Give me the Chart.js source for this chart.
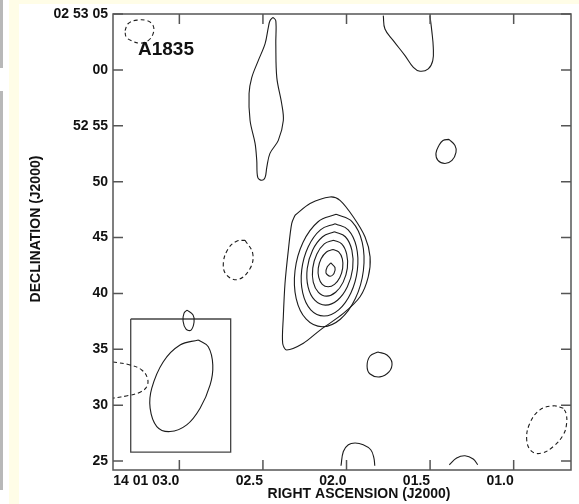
<!DOCTYPE html>
<html>
<head>
<meta charset="utf-8">
<title>A1835</title>
<script src="https://cdn.jsdelivr.net/npm/chart.js@4/dist/chart.umd.min.js"></script>
<style>
  html, body { margin: 0; padding: 0; background: #fff; }
  #wrap { position: relative; width: 579px; height: 504px; overflow: hidden; }
  .strip-top { position: absolute; left: 9px; top: 0; width: 570px; height: 4px; background: #fffde7; }
  .strip-left { position: absolute; left: 9px; top: 0; width: 10px; height: 504px; background: #fffde7; }
  .edge { position: absolute; left: 0; width: 3px; background: #b8b8b8; }
  canvas { position: absolute; left: 0; top: 0; }
</style>
</head>
<body>
<div id="wrap">
  <div class="strip-top"></div>
  <div class="strip-left"></div>
  <div class="edge" style="top:0;height:68px"></div>
  <div class="edge" style="top:91px;height:399px"></div>
  <canvas id="map" width="579" height="504"></canvas>
</div>
<script>
// RA = seconds after 14h01m, Dec = arcsec after +02d52m

var raTicks = [3.0, 2.5, 2.0, 1.5, 1.0];
var raLabels = ["14 01 03.0", "02.5", "02.0", "01.5", "01.0"];
var decTicks = [65, 60, 55, 50, 45, 40, 35, 30, 25];
var decLabels = ["02 53 05", "00", "52 55", "50", "45", "40", "35", "30", "25"];

// positive contours
var ridgeNorth = [[2.440,64.70],[2.423,64.40],[2.423,62.35],[2.417,59.31],[2.388,56.99],[2.378,55.47],[2.408,53.69],[2.458,52.53],[2.477,51.28],[2.487,50.38],[2.507,50.12],[2.531,50.38],[2.537,51.90],[2.547,53.42],[2.577,55.47],[2.583,57.88],[2.567,59.31],[2.528,60.83],[2.487,62.35],[2.468,63.78],[2.458,64.40]];
var edgeNE = [[1.780,64.85],[1.770,63.66],[1.720,62.62],[1.650,61.28],[1.600,60.23],[1.560,59.88],[1.511,60.09],[1.484,60.83],[1.481,62.02],[1.490,63.51],[1.501,64.85]];
var knotE = [[1.387,53.78],[1.351,53.24],[1.345,52.62],[1.369,51.90],[1.411,51.63],[1.453,51.90],[1.465,52.53],[1.447,53.24],[1.423,53.69]];

var srcLevel1 = [[2.308,46.99],[2.218,48.04],[2.099,48.63],[2.039,48.33],[1.959,46.84],[1.889,45.05],[1.859,43.27],[1.870,41.48],[1.919,39.70],[2.019,38.21],[2.158,36.72],[2.258,35.54],[2.358,34.94],[2.382,35.54],[2.378,37.91],[2.368,40.89],[2.348,43.87],[2.328,46.25]];
var srcLevel2 = [[2.062,47.08],[1.966,46.41],[1.906,44.57],[1.899,42.05],[1.947,39.54],[2.037,37.69],[2.145,37.02],[2.241,37.69],[2.301,39.54],[2.308,42.05],[2.260,44.57],[2.170,46.41]];
var srcLevel3 = [[2.068,46.24],[1.990,45.69],[1.941,44.18],[1.935,42.11],[1.974,40.04],[2.047,38.53],[2.135,37.98],[2.214,38.53],[2.262,40.04],[2.268,42.11],[2.229,44.18],[2.156,45.69]];
var srcLevel4 = [[2.072,45.51],[2.007,45.07],[1.968,43.87],[1.963,42.23],[1.995,40.59],[2.054,39.39],[2.126,38.95],[2.190,39.39],[2.230,40.59],[2.235,42.23],[2.203,43.87],[2.143,45.07]];
var srcLevel5 = [[2.078,44.76],[2.029,44.43],[1.999,43.51],[1.995,42.26],[2.020,41.01],[2.065,40.10],[2.119,39.76],[2.168,40.10],[2.199,41.01],[2.202,42.26],[2.178,43.51],[2.133,44.43]];
var srcLevel6 = [[2.081,43.93],[2.047,43.71],[2.025,43.10],[2.023,42.26],[2.040,41.43],[2.072,40.81],[2.110,40.59],[2.145,40.81],[2.166,41.43],[2.169,42.26],[2.152,43.10],[2.120,43.71]];
var srcLevel7 = [[2.094,42.73],[2.069,42.32],[2.075,41.79],[2.099,41.54],[2.123,41.84],[2.115,42.38]];

var knotS = [[1.812,34.76],[1.758,34.49],[1.728,33.78],[1.746,32.97],[1.800,32.53],[1.859,32.79],[1.877,33.51],[1.859,34.40]];
var knotInset = [[2.954,38.51],[2.918,38.06],[2.912,37.44],[2.930,36.72],[2.960,36.81],[2.978,37.53],[2.972,38.24]];
var arcS1 = [[2.033,24.58],[2.019,25.86],[1.989,26.46],[1.949,26.61],[1.900,26.46],[1.855,26.01],[1.836,25.27],[1.831,24.58]];
var arcS2 = [[1.385,24.67],[1.341,25.27],[1.291,25.47],[1.242,25.18],[1.215,24.67]];

// negative contours (dashed)
var negNW = [[3.325,63.51],[3.307,64.13],[3.253,64.45],[3.193,64.40],[3.157,63.96],[3.157,63.24],[3.187,62.62],[3.235,62.39],[3.289,62.62],[3.319,62.97]];
var negW = [[2.607,44.76],[2.561,43.57],[2.577,42.23],[2.647,41.25],[2.717,41.63],[2.737,42.68],[2.707,44.02],[2.657,44.67]];
var negEdgeW = [[3.397,33.87],[3.295,33.60],[3.225,33.15],[3.191,32.41],[3.195,31.66],[3.235,31.16],[3.305,30.86],[3.397,30.63]];
var negSE = [[0.703,29.73],[0.763,29.94],[0.843,29.58],[0.903,28.39],[0.922,26.90],[0.892,25.86],[0.833,25.71],[0.763,26.30],[0.703,27.35],[0.683,28.39],[0.687,29.29]];

// restoring beam and its box
var beam = [[2.886,35.83],[2.827,35.23],[2.800,33.60],[2.816,31.81],[2.876,29.73],[2.956,28.24],[3.056,27.64],[3.135,28.09],[3.175,29.73],[3.165,31.52],[3.096,33.89],[2.996,35.38]];
var beamBox = [[3.291,37.71],[2.693,37.71],[2.693,25.80],[3.291,25.80]];

function toXY(pts, closed) {
  var out = pts.map(function (p) { return { x: p[0], y: p[1] }; });
  if (closed) out.push({ x: pts[0][0], y: pts[0][1] });
  return out;
}

function contour(pts, closed, dashed, tension) {
  return {
    data: toXY(pts, closed),
    showLine: true,
    borderColor: "#1c1c1c",
    borderWidth: 1.1,
    borderDash: dashed ? [4, 3] : [],
    pointRadius: 0,
    tension: tension,
    fill: false
  };
}

var datasets = [
  contour(ridgeNorth, true, false, 0.35),
  contour(edgeNE, false, false, 0.4),
  contour(knotE, true, false, 0.4),
  contour(srcLevel1, true, false, 0.3),
  contour(srcLevel2, true, false, 0.4),
  contour(srcLevel3, true, false, 0.4),
  contour(srcLevel4, true, false, 0.4),
  contour(srcLevel5, true, false, 0.4),
  contour(srcLevel6, true, false, 0.4),
  contour(srcLevel7, true, false, 0.3),
  contour(knotS, true, false, 0.4),
  contour(knotInset, true, false, 0.4),
  contour(arcS1, false, false, 0.4),
  contour(arcS2, false, false, 0.4),
  contour(negNW, true, true, 0.4),
  contour(negW, true, true, 0.4),
  contour(negEdgeW, false, true, 0.4),
  contour(negSE, true, true, 0.4),
  contour(beam, true, false, 0.4),
  contour(beamBox, true, false, 0)
];
datasets[datasets.length - 1].borderColor = "#444";
datasets[datasets.length - 1].borderWidth = 1.3;

var tickFont = { family: "'Liberation Sans', Arial, sans-serif", size: 14, weight: "bold" };

// box, inward ticks on all four sides, axis titles and source label
var framePlugin = {
  id: "framePlugin",
  afterDraw: function (chart) {
    var ctx = chart.ctx;
    var a = chart.chartArea;
    var xs = chart.scales.x;
    var ys = chart.scales.y;
    ctx.save();
    ctx.strokeStyle = "#555";
    ctx.lineWidth = 1.5;
    ctx.strokeRect(a.left, a.top, a.right - a.left, a.bottom - a.top);
    ctx.beginPath();
    raTicks.forEach(function (v) {
      var px = xs.getPixelForValue(v);
      ctx.moveTo(px, a.bottom); ctx.lineTo(px, a.bottom - 10);
      ctx.moveTo(px, a.top); ctx.lineTo(px, a.top + 10);
    });
    decTicks.forEach(function (v) {
      var py = ys.getPixelForValue(v);
      ctx.moveTo(a.left, py); ctx.lineTo(a.left + 10, py);
      ctx.moveTo(a.right, py); ctx.lineTo(a.right - 10, py);
    });
    ctx.stroke();

    ctx.fillStyle = "#111";
    ctx.font = "bold 14px 'Liberation Sans', Arial, sans-serif";
    ctx.textAlign = "center";
    ctx.textBaseline = "alphabetic";
    ctx.fillText("RIGHT ASCENSION (J2000)", (a.left + a.right) / 2 + 17, 498);

    ctx.save();
    ctx.translate(39.5, 229);
    ctx.rotate(-Math.PI / 2);
    ctx.fillText("DECLINATION (J2000)", 0, 0);
    ctx.restore();

    ctx.font = "bold 19px 'Liberation Sans', Arial, sans-serif";
    ctx.textAlign = "left";
    ctx.fillText("A1835", a.left + 25, a.top + 41);
    ctx.restore();
  }
};

new Chart(document.getElementById("map"), {
  type: "scatter",
  data: { datasets: datasets },
  options: {
    responsive: false,
    animation: false,
    devicePixelRatio: 1,
    layout: { padding: { top: 14, right: 8, left: 0, bottom: 0 } },
    plugins: {
      legend: { display: false },
      tooltip: { enabled: false }
    },
    scales: {
      x: {
        type: "linear",
        reverse: true,
        min: 0.657,
        max: 3.397,
        grid: { display: false, drawTicks: false },
        border: { display: false },
        afterBuildTicks: function (s) { s.ticks = raTicks.map(function (v) { return { value: v }; }); },
        afterFit: function (s) { s.height = 34; },
        ticks: {
          autoSkip: false,
          maxRotation: 0,
          align: "end",
          padding: 3,
          color: "#111",
          font: tickFont,
          callback: function (v, i) { return raLabels[i]; }
        }
      },
      y: {
        type: "linear",
        min: 24.2,
        max: 65.0,
        grid: { display: false, drawTicks: false },
        border: { display: false },
        afterBuildTicks: function (s) { s.ticks = decTicks.map(function (v) { return { value: v }; }); },
        afterFit: function (s) { s.width = 113; },
        ticks: {
          autoSkip: false,
          padding: 5,
          color: "#111",
          font: tickFont,
          callback: function (v, i) { return decLabels[i]; }
        }
      }
    }
  },
  plugins: [framePlugin]
});
</script>
</body>
</html>
